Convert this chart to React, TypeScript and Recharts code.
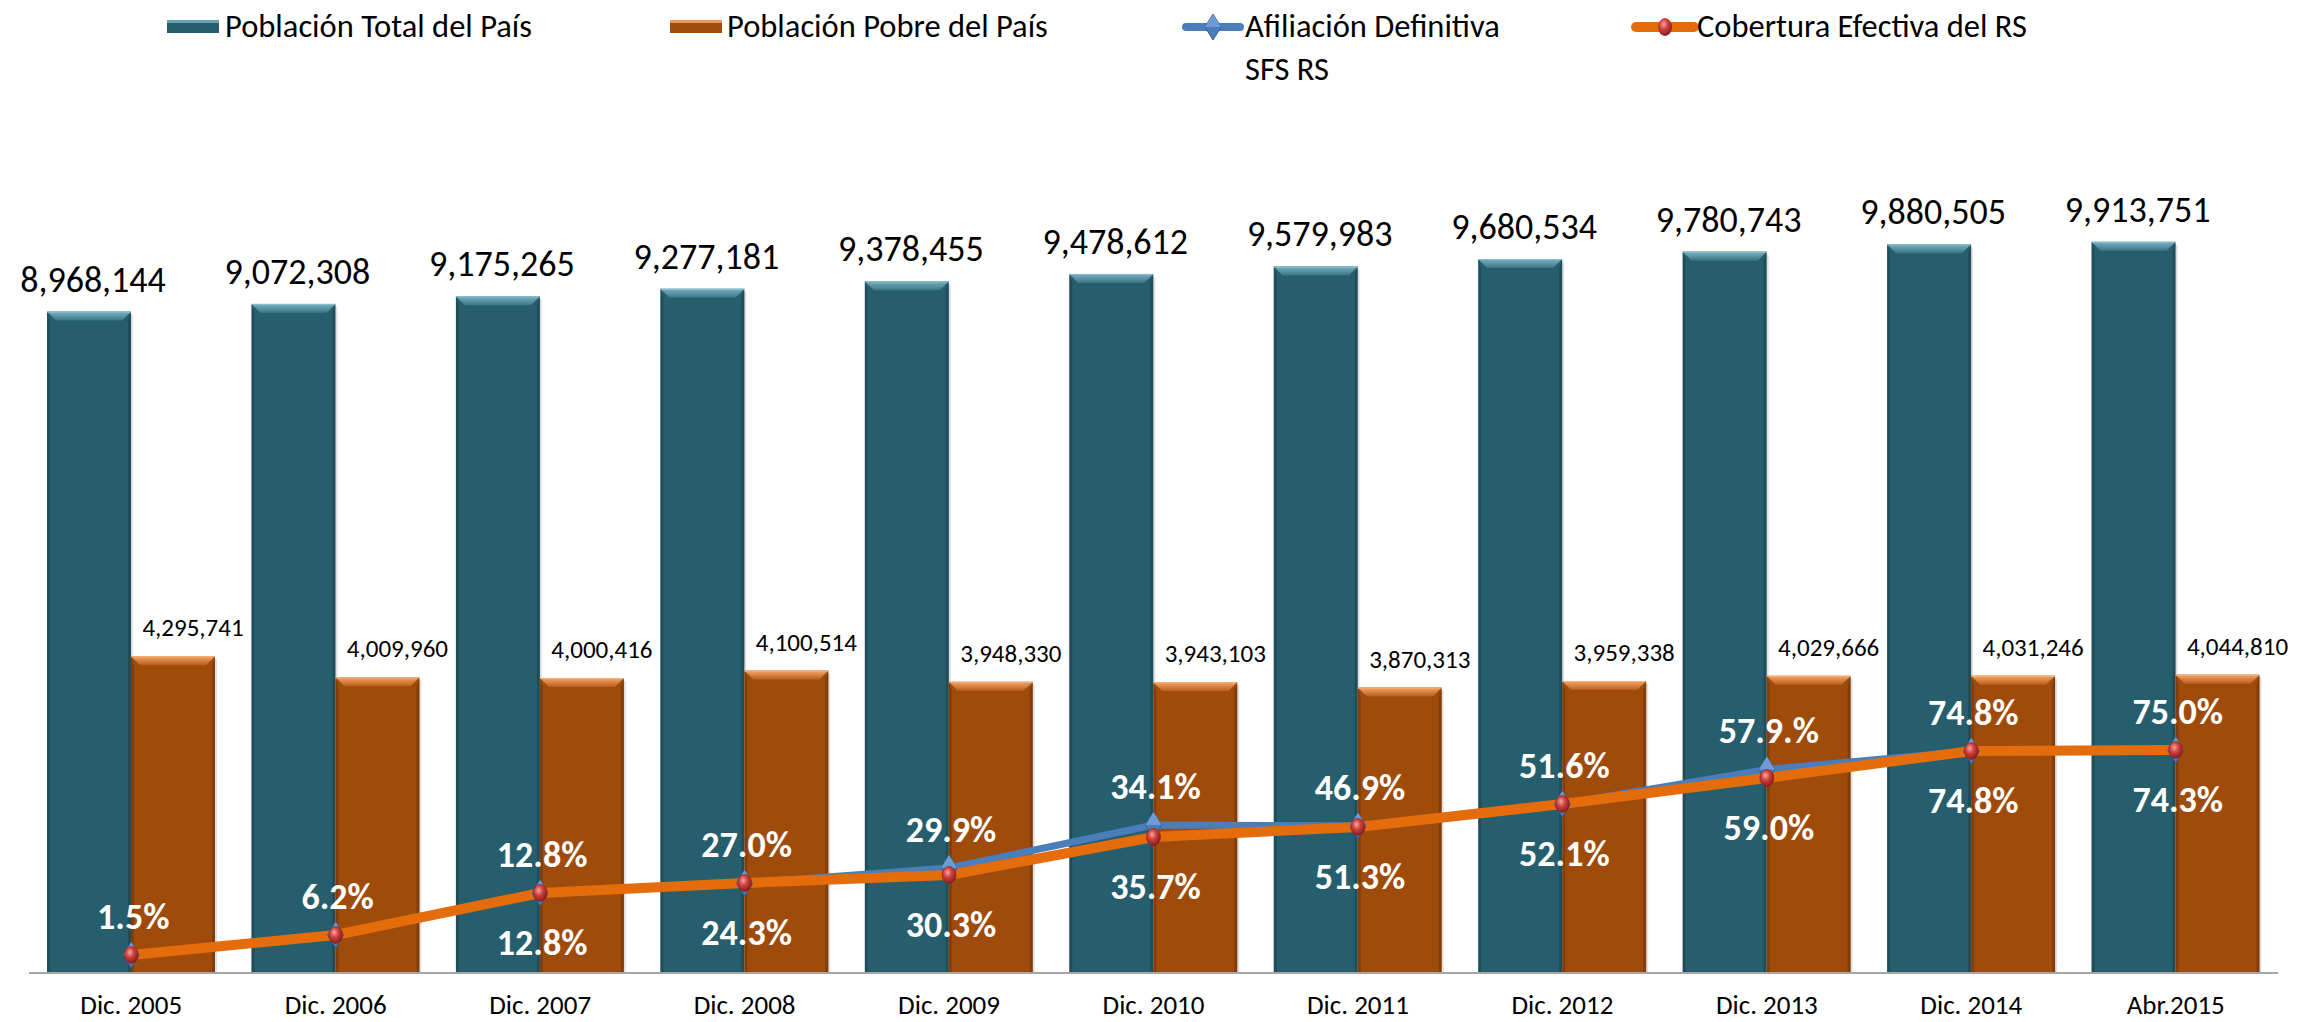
import React from 'react';
import { ComposedChart, Bar, Line, XAxis, YAxis, LabelList } from 'recharts';

const categories = ['Dic. 2005', 'Dic. 2006', 'Dic. 2007', 'Dic. 2008', 'Dic. 2009', 'Dic. 2010', 'Dic. 2011', 'Dic. 2012', 'Dic. 2013', 'Dic. 2014', 'Abr.2015'];
const poblacionTotal = [8968144, 9072308, 9175265, 9277181, 9378455, 9478612, 9579983, 9680534, 9780743, 9880505, 9913751];
const poblacionPobre = [4295741, 4009960, 4000416, 4100514, 3948330, 3943103, 3870313, 3959338, 4029666, 4031246, 4044810];
// line heights (persons, same scale as the bars)
const afiliacionPersonas = [244000, 515000, 1085000, 1220000, 1424000, 2007000, 1995000, 2291000, 2760000, 3010000, 3024000];
const coberturaPersonas = [244000, 515000, 1085000, 1220000, 1329000, 1844000, 1980000, 2291000, 2644000, 3010000, 3024000];
// percentage labels as printed
const afiliacionPct = ['1.5%', '6.2%', '12.8%', '27.0%', '29.9%', '34.1%', '46.9%', '51.6%', '57.9.%', '74.8%', '75.0%'];
const coberturaPct = [null, null, '12.8%', '24.3%', '30.3%', '35.7%', '51.3%', '52.1%', '59.0%', '74.8%', '74.3%'];

const data = categories.map((name, i) => ({
    name,
    total: poblacionTotal[i],
    pobre: poblacionPobre[i],
    afiliacion: afiliacionPersonas[i],
    cobertura: coberturaPersonas[i],
    afiliacionLbl: afiliacionPct[i],
    coberturaLbl: coberturaPct[i],
}));

const FONT = "Carlito, Lato, 'Open Sans', sans-serif";
const fmt = (v: number) => v.toLocaleString('en-US');

const BevelBar = (props: any) => {
    const { x, y, width, height, base, top, topId } = props;
    if (!height || height <= 0) return null;
    const b = 9;
    return (
        <g>
            <rect x={x + 2} y={y + 3} width={width} height={height - 3} fill="#000" opacity={0.12} />
            <rect x={x} y={y} width={width} height={height} fill={base} />
            <polygon points={`${x},${y} ${x + 3},${y + b} ${x + 3},${y + height} ${x},${y + height}`} fill="#000" opacity={0.18} />
            <polygon points={`${x + width},${y} ${x + width - 3},${y + b} ${x + width - 3},${y + height} ${x + width},${y + height}`} fill="#000" opacity={0.18} />
            <polygon points={`${x},${y} ${x + width},${y} ${x + width - b},${y + b} ${x + b},${y + b}`} fill={`url(#${topId})`} />
            <line x1={x} y1={y + 0.5} x2={x + width} y2={y + 0.5} stroke={top} strokeWidth={1} />
        </g>
    );
};

const Diamond = ({ cx, cy }: any) => {
    if (cx == null || cy == null) return null;
    return (
        <g>
            <polygon points={`${cx},${cy - 13} ${cx + 8},${cy} ${cx},${cy + 13} ${cx - 8},${cy}`} fill="#4a7ebb" stroke="#2f5f96" strokeWidth={1} />
            <polygon points={`${cx},${cy - 13} ${cx + 8},${cy} ${cx - 8},${cy}`} fill="#6f9ad6" />
        </g>
    );
};

const Sphere = ({ cx, cy }: any) => {
    if (cx == null || cy == null) return null;
    return <ellipse cx={cx} cy={cy} rx={7} ry={8.5} fill="url(#sphereGrad)" stroke="#8c2020" strokeWidth={0.6} />;
};

const TotalLabel = (p: any) => (
    <text x={p.x + p.width / 2 + 4} y={p.y - 20} textAnchor="middle" fontSize={36} fontFamily={FONT} fill="#000">
        {fmt(p.value)}
    </text>
);

const PobreLabel = (p: any) => (
    <text x={p.x + p.width / 2 + 20} y={p.y - 20} textAnchor="middle" fontSize={25} fontFamily={FONT} fill="#000">
        {fmt(p.value)}
    </text>
);

const UpperPct = (p: any) =>
    p.value ? (
        <text x={p.x + 2} y={p.y - 26} textAnchor="middle" fontSize={36} fontWeight="bold" fontFamily={FONT} fill="#fff">
            {p.value}
        </text>
    ) : null;

const LowerPct = (p: any) =>
    p.value ? (
        <text x={p.x + 2} y={p.y + 62} textAnchor="middle" fontSize={36} fontWeight="bold" fontFamily={FONT} fill="#fff">
            {p.value}
        </text>
    ) : null;

const AxisTick = ({ x, y, payload }: any) => (
    <text x={x} y={y + 33} textAnchor="middle" fontSize={27} fontFamily={FONT} fill="#000">
        {payload.value}
    </text>
);

const legendText: React.CSSProperties = { position: 'absolute', fontSize: 32.5, fontFamily: FONT, color: '#000', lineHeight: '43px', whiteSpace: 'nowrap' };

function LegendBox({ left, color, light }: { left: number; color: string; light: string }) {
    return (
        <div style={{ position: 'absolute', left, top: 20, width: 52, height: 13, background: color, boxShadow: `inset 0 3px 0 ${light}` }} />
    );
}

export default function App() {
    return (
        <div style={{ position: 'relative', width: 2305, height: 1022, background: '#fff' }}>
            <style>{'body{margin:0}'}</style>

            {/* legend */}
            <LegendBox left={167} color="#275e6d" light="#6aa3b3" />
            <div style={{ ...legendText, left: 225, top: 5 }}>Población Total del País</div>
            <LegendBox left={670} color="#9f4b0b" light="#e89a5c" />
            <div style={{ ...legendText, left: 727, top: 5 }}>Población Pobre del País</div>
            <svg style={{ position: 'absolute', left: 1180, top: 10 }} width={66} height={34}>
                <line x1={6} y1={17} x2={60} y2={17} stroke="#4a7ebb" strokeWidth={8} strokeLinecap="round" />
                <polygon points="33,4 41,17 33,30 25,17" fill="#4a7ebb" stroke="#2f5f96" strokeWidth={1} />
                <polygon points="33,4 41,17 25,17" fill="#6f9ad6" />
            </svg>
            <div style={{ ...legendText, left: 1245, top: 5 }}>Afiliación Definitiva<br />SFS RS</div>
            <svg style={{ position: 'absolute', left: 1630, top: 10 }} width={70} height={34}>
                <defs>
                    <radialGradient id="legSphere" cx="40%" cy="35%" r="65%">
                        <stop offset="0%" stopColor="#f4a6a4" />
                        <stop offset="45%" stopColor="#d0413d" />
                        <stop offset="100%" stopColor="#8a1c1c" />
                    </radialGradient>
                </defs>
                <line x1={6} y1={17} x2={64} y2={17} stroke="#e46c0a" strokeWidth={10} strokeLinecap="round" />
                <ellipse cx={35} cy={17} rx={7} ry={9} fill="url(#legSphere)" />
            </svg>
            <div style={{ ...legendText, left: 1697, top: 5 }}>Cobertura Efectiva del RS</div>

            <div style={{ position: 'absolute', left: 0, top: 0 }}>
                <ComposedChart
                    width={2305}
                    height={1022}
                    data={data}
                    margin={{ top: 88, right: 27, left: 29, bottom: 0 }}
                    barCategoryGap={18}
                    barGap={0}
                >
                    <defs>
                        <linearGradient id="tealTop" x1="0" y1="0" x2="0" y2="1">
                            <stop offset="0%" stopColor="#79b2c2" />
                            <stop offset="100%" stopColor="#3a7586" />
                        </linearGradient>
                        <linearGradient id="orangeTop" x1="0" y1="0" x2="0" y2="1">
                            <stop offset="0%" stopColor="#f3a66a" />
                            <stop offset="100%" stopColor="#bb5e1a" />
                        </linearGradient>
                        <radialGradient id="sphereGrad" cx="40%" cy="35%" r="65%">
                            <stop offset="0%" stopColor="#f4a6a4" />
                            <stop offset="45%" stopColor="#d0413d" />
                            <stop offset="100%" stopColor="#8a1c1c" />
                        </radialGradient>
                    </defs>
                    <XAxis
                        dataKey="name"
                        height={49}
                        tickLine={false}
                        axisLine={{ stroke: '#a6a6a6', strokeWidth: 2 }}
                        tick={<AxisTick />}
                        interval={0}
                    />
                    <YAxis hide domain={[0, 12000000]} />
                    <Bar
                        dataKey="total"
                        isAnimationActive={false}
                        shape={(p: any) => <BevelBar {...p} base="#275e6d" top="#8cc0cf" topId="tealTop" />}
                    >
                        <LabelList dataKey="total" content={<TotalLabel />} />
                    </Bar>
                    <Bar
                        dataKey="pobre"
                        isAnimationActive={false}
                        shape={(p: any) => <BevelBar {...p} base="#9f4b0b" top="#f6b27c" topId="orangeTop" />}
                    >
                        <LabelList dataKey="pobre" content={<PobreLabel />} />
                    </Bar>
                    <Line
                        dataKey="afiliacion"
                        type="linear"
                        stroke="#4a7ebb"
                        strokeWidth={7}
                        isAnimationActive={false}
                        dot={(p: any) => <Diamond key={`d-${p.index}`} {...p} />}
                        activeDot={false}
                    >
                        <LabelList dataKey="afiliacionLbl" content={<UpperPct />} />
                    </Line>
                    <Line
                        dataKey="cobertura"
                        type="linear"
                        stroke="#e46c0a"
                        strokeWidth={10}
                        isAnimationActive={false}
                        dot={(p: any) => <Sphere key={`s-${p.index}`} {...p} />}
                        activeDot={false}
                    >
                        <LabelList dataKey="coberturaLbl" content={<LowerPct />} />
                    </Line>
                </ComposedChart>
            </div>
        </div>
    );
}
